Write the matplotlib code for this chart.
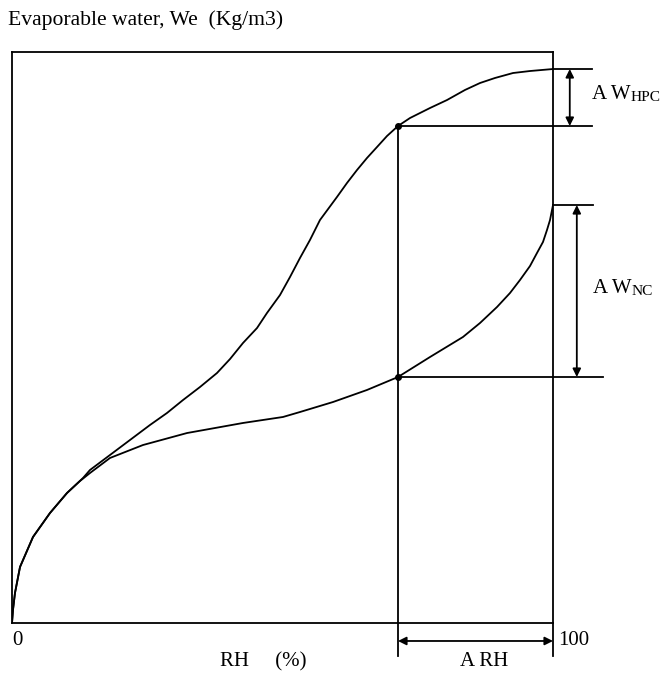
import matplotlib
matplotlib.use("Agg")
from matplotlib import pyplot as plt

plt.rcParams["font.family"] = ["Liberation Serif", "DejaVu Serif"]

# relative humidity (%) vs evaporable water (relative scale, 0-100)
rh_hpc = [0, 0.18, 0.55, 1.48, 3.88, 7.02, 10.17, 13.12, 14.42, 18.11, 21.81,
          25.51, 28.65, 31.61, 34.75, 37.89, 40.30, 42.70, 45.29, 47.13, 49.54,
          51.39, 53.23, 55.08, 56.93, 60.07, 61.92, 63.77, 65.62, 67.47, 69.32,
          71.35, 73.57, 77.26, 80.41, 83.73, 86.51, 89.28, 92.61, 95.75, 100]
we_hpc = [0, 2.28, 5.25, 9.81, 15.06, 19.26, 22.77, 25.39, 26.80, 29.42, 32.05,
          34.68, 36.78, 39.05, 41.33, 43.78, 46.23, 49.04, 51.66, 54.29, 57.44,
          60.60, 63.92, 67.08, 70.58, 74.61, 77.06, 79.33, 81.44, 83.36, 85.29,
          87.04, 88.44, 90.19, 91.59, 93.35, 94.57, 95.45, 96.32, 96.67, 97.02]

rh_nc = [0, 0.18, 0.55, 1.48, 3.88, 7.02, 10.17, 12.57, 14.42, 18.11, 24.21,
         32.35, 42.70, 50.09, 53.23, 59.33, 65.62, 71.35, 77.26, 83.36, 86.51,
         89.65, 92.05, 93.90, 95.75, 97.04, 98.15, 98.89, 99.45, 100]
we_nc = [0, 2.28, 5.25, 9.81, 15.06, 19.26, 22.77, 24.87, 26.27, 28.90, 31.17,
         33.27, 35.03, 36.08, 36.95, 38.70, 40.81, 43.08, 46.58, 50.09, 52.54,
         55.34, 57.79, 60.07, 62.52, 64.80, 66.73, 68.83, 70.58, 73.20]

rh_mark = 71.35
we_mark_hpc = 87.04
we_mark_nc = 43.08
we_top_hpc = 97.02
we_top_nc = 73.20

fig = plt.figure(figsize=(6.65, 6.74), dpi=100)
ax = fig.add_axes([12 / 665, 51 / 674, 541 / 665, 571 / 674])
ax.set_xlim(0, 100)
ax.set_ylim(0, 100)
ax.set_xticks([])
ax.set_yticks([])
for sp in ax.spines.values():
    sp.set_linewidth(1.3)

lw = 1.3
ax.plot(rh_hpc, we_hpc, color="black", lw=lw)
ax.plot(rh_nc, we_nc, color="black", lw=lw)
ax.plot([rh_mark, rh_mark], [we_mark_hpc, we_mark_nc], "o", color="black", ms=4)

# guide lines outside the box
kw = dict(color="black", lw=lw, clip_on=False)
ax.plot([rh_mark, rh_mark], [we_mark_hpc, -5.8], **kw)
ax.plot([100, 100], [0, -5.8], **kw)
ax.plot([100, 107.2], [we_top_hpc, we_top_hpc], **kw)
ax.plot([rh_mark, 107.2], [we_mark_hpc, we_mark_hpc], **kw)
ax.plot([100, 107.4], [we_top_nc, we_top_nc], **kw)
ax.plot([rh_mark, 109.2], [we_mark_nc, we_mark_nc], **kw)

arrow = dict(arrowstyle="<|-|>", color="black", lw=lw, mutation_scale=12,
             shrinkA=0, shrinkB=0)
ax.annotate("", xy=(103.1, we_mark_hpc), xytext=(103.1, we_top_hpc),
            arrowprops=arrow, annotation_clip=False)
ax.annotate("", xy=(104.4, we_mark_nc), xytext=(104.4, we_top_nc),
            arrowprops=arrow, annotation_clip=False)
ax.annotate("", xy=(rh_mark, -3.15), xytext=(100, -3.15),
            arrowprops=arrow, annotation_clip=False)

fs = 15
t1 = ax.text(107.2, 92.5, "A W", fontsize=fs, va="center", clip_on=False)
ax.annotate("HPC", xy=(1, 0), xycoords=t1, fontsize=fs * 0.74, va="bottom",
            annotation_clip=False)
t2 = ax.text(107.4, 58.5, "A W", fontsize=fs, va="center", clip_on=False)
ax.annotate("NC", xy=(1, 0), xycoords=t2, fontsize=fs * 0.74, va="bottom",
            annotation_clip=False)

ax.text(0, -3.15, "0", fontsize=fs, va="center", ha="left", clip_on=False)
ax.text(101, -3.15, "100", fontsize=fs, va="center", ha="left", clip_on=False)
ax.text(38.4, -6.8, "RH     (%)", fontsize=fs, va="center", ha="left", clip_on=False)
ax.text(82.8, -6.8, "A RH", fontsize=fs, va="center", ha="left", clip_on=False)

fig.text(8 / 665, 1 - 20 / 674, "Evaporable water, We  (Kg/m3)", fontsize=15.6,
         va="center", ha="left")

fig.savefig("out.png", dpi=100)
